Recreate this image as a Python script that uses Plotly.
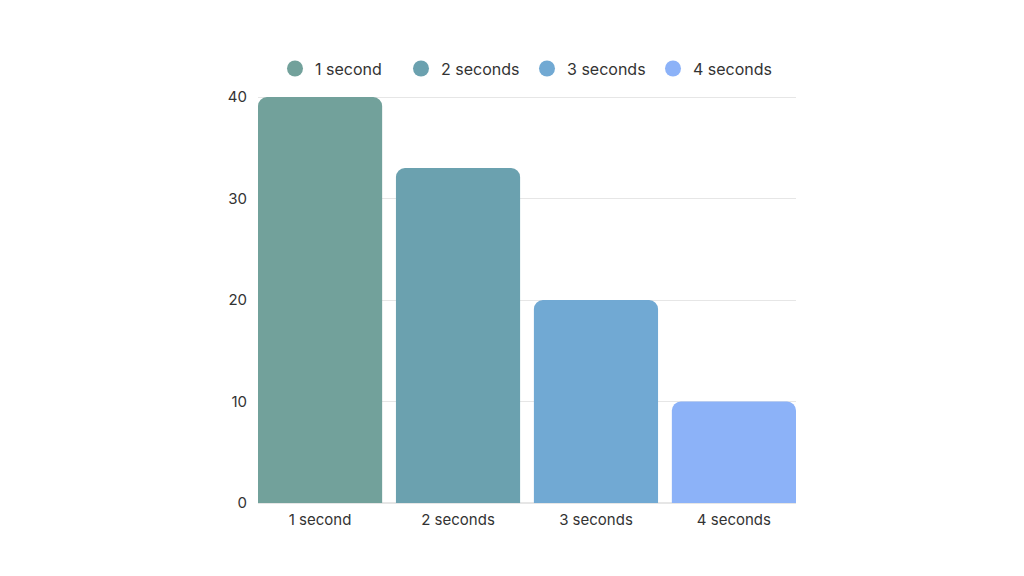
import plotly.graph_objects as go

# chart data
categories = ["1 second", "2 seconds", "3 seconds", "4 seconds"]
values = [40, 33, 20, 10]
colors = ["#72A19B", "#6BA1AF", "#71A9D3", "#8CB2F8"]
y_ticks = [0, 10, 20, 30, 40]

fig = go.Figure()

# the bars themselves, one colour per category
fig.add_trace(
    go.Bar(
        x=categories,
        y=values,
        marker=dict(color=colors, line=dict(width=0), cornerradius=9),
        showlegend=False,
        hoverinfo="x+y",
    )
)

# legend entries drawn as circles
for name, col in zip(categories, colors):
    fig.add_trace(
        go.Scatter(
            x=[None],
            y=[None],
            mode="markers",
            name=name,
            marker=dict(color=col, size=17, symbol="circle"),
        )
    )

fig.update_layout(
    width=1024,
    height=576,
    paper_bgcolor="white",
    plot_bgcolor="white",
    font=dict(family="Inter, Lato, sans-serif", size=15, color="#333333"),
    margin=dict(l=250, r=236, t=87, b=81),
    bargap=0.1,
    legend=dict(
        orientation="h",
        x=0.5,
        xanchor="center",
        y=1.023,
        yanchor="bottom",
        font=dict(size=16, color="#333333"),
        itemsizing="trace",
        itemwidth=30,
        entrywidth=81,
        entrywidthmode="pixels",
        traceorder="normal",
    ),
    xaxis=dict(
        range=[-0.45, 3.45],
        showgrid=False,
        showline=False,
        ticks="",
        ticklabelstandoff=6,
        tickfont=dict(size=15),
    ),
    yaxis=dict(
        range=[0, 40.2],
        tickvals=y_ticks,
        showgrid=True,
        gridcolor="#E6E6E6",
        gridwidth=1,
        zeroline=True,
        zerolinecolor="#E6E6E6",
        showline=False,
        ticks="",
        ticklabelstandoff=10,
        tickfont=dict(size=15),
    ),
)

fig.write_html("out.html")
